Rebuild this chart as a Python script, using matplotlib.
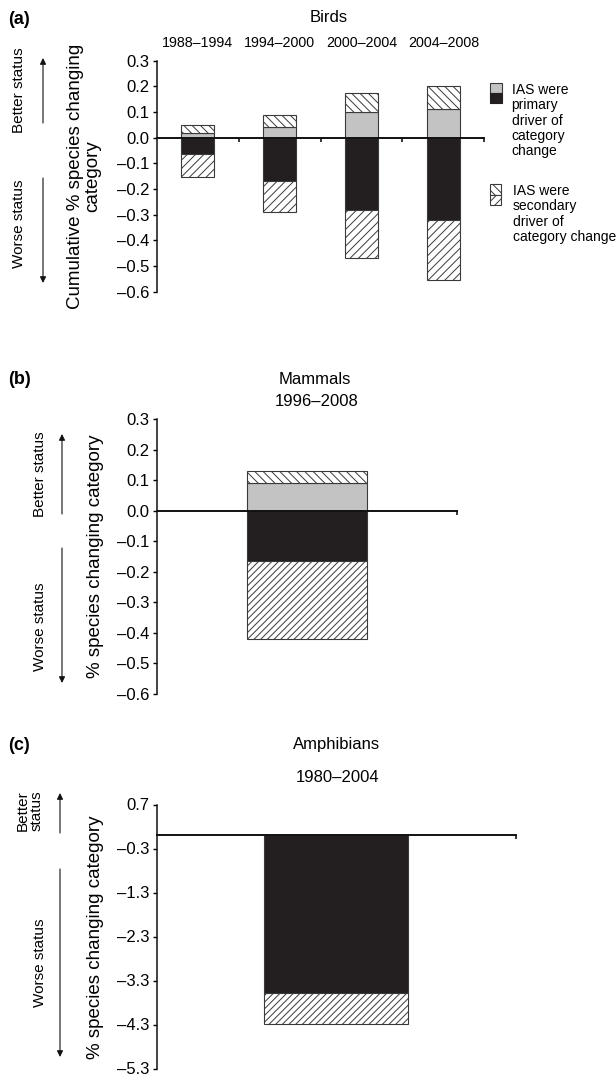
import matplotlib
matplotlib.use("Agg")
import matplotlib.pyplot as plt
from matplotlib.patches import Rectangle

plt.rcParams["font.family"] = ["Liberation Sans", "DejaVu Sans"]
plt.rcParams["hatch.linewidth"] = 0.7

W, H = 616, 1077

# ---- data (% of species changing Red List category) ----
bird_periods = ["1988–1994", "1994–2000", "2000–2004", "2004–2008"]
bird_better_primary = [0.020, 0.040, 0.100, 0.111]
bird_better_secondary = [0.031, 0.050, 0.073, 0.092]
bird_worse_primary = [-0.064, -0.167, -0.281, -0.320]
bird_worse_secondary = [-0.090, -0.121, -0.189, -0.233]

mammal_period = ["1996–2008"]
mammal_better_primary = [0.092]
mammal_better_secondary = [0.039]
mammal_worse_primary = [-0.166]
mammal_worse_secondary = [-0.254]

amphibian_period = ["1980–2004"]
amphibian_worse_primary = [-3.58]
amphibian_worse_secondary = [-0.70]

ticks_ab = [0.3, 0.2, 0.1, 0.0, -0.1, -0.2, -0.3, -0.4, -0.5, -0.6]
ticks_c = [0.7, -0.3, -1.3, -2.3, -3.3, -4.3, -5.3]

GRAY = "#c3c3c3"
BLACK = "#231f20"
EDGE = "#3a3a3a"
BAR_W = 0.4

fig = plt.figure(figsize=(W / 100, H / 100), dpi=100)


def px_axes(left, right, top, bottom):
    """Axes placed with pixel edges measured from the top-left corner."""
    return fig.add_axes([left / W, 1 - bottom / H, (right - left) / W, (bottom - top) / H])


def draw_stack(ax, x, primary, secondary, primary_color, hatch):
    ax.bar(x, primary, BAR_W, color=primary_color, edgecolor=EDGE, linewidth=0.8)
    ax.bar(x, secondary, BAR_W, bottom=primary, color="white", edgecolor=EDGE,
           linewidth=0.8, hatch=hatch)


def style_axes(ax, n, ylim, yticks):
    ax.set_xlim(-0.5, n - 0.5)
    ax.set_ylim(*ylim)
    for s in ("top", "right"):
        ax.spines[s].set_visible(False)
    ax.spines["bottom"].set_position(("data", 0))
    ax.spines["bottom"].set_linewidth(1.4)
    ax.spines["left"].set_linewidth(1.1)
    ax.spines["bottom"].set_color("#111111")
    ax.spines["left"].set_color("#111111")
    ax.set_xticks([i + 0.5 for i in range(n)])
    ax.set_xticklabels([])
    ax.tick_params(axis="x", direction="out", length=3, width=1.1)
    ax.set_yticks(yticks)
    ax.set_yticklabels([f"{v:.1f}".replace("-", "–") for v in yticks], fontsize=12)
    ax.tick_params(axis="y", direction="out", length=3, width=1.0, pad=2)
    ax.patch.set_alpha(0)


# ---- panel (a): birds ----
ax_a = px_axes(156.7, 484.3, 60.7, 291.7)
xa = range(len(bird_periods))
draw_stack(ax_a, xa, bird_better_primary, bird_better_secondary, GRAY, "\\\\\\\\")
draw_stack(ax_a, xa, bird_worse_primary, bird_worse_secondary, BLACK, "////")
style_axes(ax_a, len(bird_periods), (-0.6, 0.3), ticks_ab)
for i, lab in enumerate(bird_periods):
    ax_a.text(i, 1.077, lab, transform=ax_a.get_xaxis_transform(),
              ha="center", va="center", fontsize=10.3)

# ---- panel (b): mammals ----
ax_b = px_axes(156.7, 457.3, 419.3, 693.5)
draw_stack(ax_b, [0], mammal_better_primary, mammal_better_secondary, GRAY, "\\\\\\\\")
draw_stack(ax_b, [0], mammal_worse_primary, mammal_worse_secondary, BLACK, "/////")
style_axes(ax_b, 1, (-0.6, 0.3), ticks_ab)

# ---- panel (c): amphibians ----
ax_c = px_axes(156.7, 516.0, 804.5, 1068.5)
draw_stack(ax_c, [0], amphibian_worse_primary, amphibian_worse_secondary, BLACK, "/////")
style_axes(ax_c, 1, (-5.3, 0.7), ticks_c)

# ---- overlay in pixel coordinates for labels, arrows and legend ----
ov = fig.add_axes([0, 0, 1, 1], zorder=-1)
ov.set_xlim(0, W)
ov.set_ylim(H, 0)
ov.axis("off")


def label(x, y, s, **kw):
    kw.setdefault("ha", "center")
    kw.setdefault("va", "center")
    ov.text(x, y, s, **kw)


def arrow(x, y0, y1):
    ov.annotate("", xy=(x, y1), xytext=(x, y0),
                arrowprops=dict(arrowstyle="-|>", color="#111111", lw=0.8,
                                mutation_scale=9, shrinkA=0, shrinkB=0))


# panel letters and titles
label(8, 20, "(a)", ha="left", fontsize=13, fontweight="bold")
label(8, 379, "(b)", ha="left", fontsize=13, fontweight="bold")
label(8, 745, "(c)", ha="left", fontsize=13, fontweight="bold")
label(329, 18, "Birds", fontsize=12)
label(315, 379, "Mammals", fontsize=12)
label(317, 402, mammal_period[0], fontsize=12)
label(337, 745, "Amphibians", fontsize=12)
label(338, 777, amphibian_period[0], fontsize=12)

# y-axis labels
label(84, 176, "Cumulative % species changing\ncategory", rotation=90,
      fontsize=13.5, linespacing=1.0)
label(95, 556, "% species changing category", rotation=90, fontsize=13.5)
label(95, 937, "% species changing category", rotation=90, fontsize=13.5)

# status labels and arrows
label(19, 90, "Better status", rotation=90, fontsize=11)
label(19, 224, "Worse status", rotation=90, fontsize=11)
arrow(43, 123, 58)
arrow(43, 178, 283)

label(40.5, 474, "Better status", rotation=90, fontsize=11)
label(40.5, 627, "Worse status", rotation=90, fontsize=11)
arrow(62, 514, 434)
arrow(62, 548, 683)

label(30, 811, "Better\nstatus", rotation=90, fontsize=11, linespacing=1.0)
label(40, 963, "Worse status", rotation=90, fontsize=11)
arrow(60, 833, 793)
arrow(60, 869, 1057)

# legend (split swatches drawn by hand)
ov.add_patch(Rectangle((490, 82.7), 11.7, 10.3, facecolor=GRAY, edgecolor=EDGE, lw=0.8))
ov.add_patch(Rectangle((490, 93.0), 11.7, 10.3, facecolor=BLACK, edgecolor=BLACK, lw=0.8))
ov.add_patch(Rectangle((489.5, 184), 11.7, 10.5, facecolor="white", edgecolor=EDGE,
                       lw=0.8, hatch="\\\\\\\\"))
ov.add_patch(Rectangle((489.5, 194.5), 11.7, 10.5, facecolor="white", edgecolor=EDGE,
                       lw=0.8, hatch="////"))
label(511.5, 83, "IAS were\nprimary\ndriver of\ncategory\nchange", ha="left", va="top",
      fontsize=10, linespacing=1.12)
label(513, 184, "IAS were\nsecondary\ndriver of\ncategory change", ha="left", va="top",
      fontsize=10, linespacing=1.12)

fig.savefig("out.png", dpi=100)
